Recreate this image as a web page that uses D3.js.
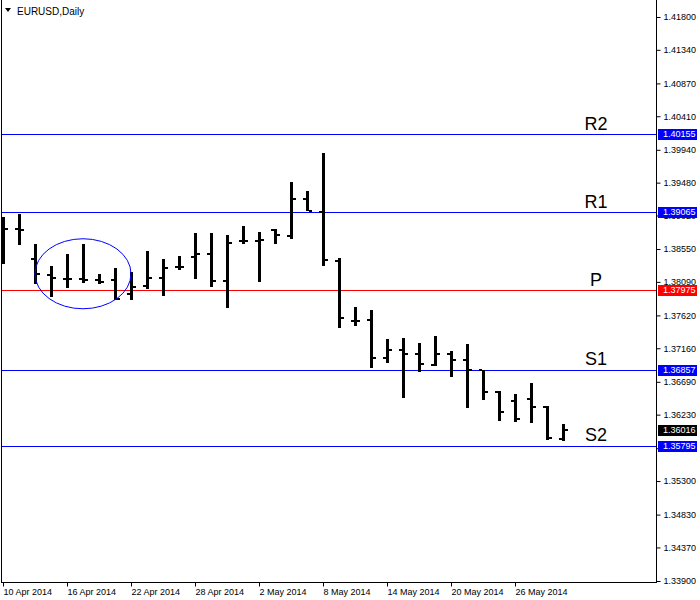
<!DOCTYPE html>
<html><head><meta charset="utf-8">
<script src="https://cdn.jsdelivr.net/npm/d3@7"></script>
<style>
html,body{margin:0;padding:0;background:#fff;}
svg{display:block;}
text{font-family:"Liberation Sans",Arial,sans-serif;}
</style></head>
<body>
<script>
// ---- data ----
const symbolTitle = "EURUSD,Daily";
const dates = ["2014-04-10","2014-04-11","2014-04-14","2014-04-15","2014-04-16","2014-04-17","2014-04-18",
  "2014-04-21","2014-04-22","2014-04-23","2014-04-24","2014-04-25","2014-04-28","2014-04-29","2014-04-30",
  "2014-05-01","2014-05-02","2014-05-05","2014-05-06","2014-05-07","2014-05-08","2014-05-09","2014-05-12",
  "2014-05-13","2014-05-14","2014-05-15","2014-05-16","2014-05-19","2014-05-20","2014-05-21","2014-05-22",
  "2014-05-23","2014-05-26","2014-05-27","2014-05-28","2014-05-29"];
const opens  = [1.38850,1.38835,1.38414,1.38190,1.38134,1.38134,1.38120,1.38120,1.37923,1.38036,1.38148,1.38302,
  1.38442,1.38484,1.38106,1.38666,1.38666,1.38821,1.38737,1.39255,1.39073,1.38386,1.37545,1.37559,1.37026,1.37138,
  1.37082,1.36928,1.37082,1.36998,1.36858,1.36550,1.36423,1.36451,1.36339,1.35891];
const highs  = [1.39000,1.39045,1.38624,1.38316,1.38484,1.38624,1.38204,1.38288,1.38232,1.38526,1.38414,1.38456,
  1.38779,1.38779,1.38751,1.38877,1.38793,1.38835,1.39494,1.39367,1.39900,1.38428,1.37741,1.37699,1.37293,1.37307,
  1.37237,1.37335,1.37124,1.37223,1.36858,1.36564,1.36522,1.36676,1.36353,1.36101];
const lows   = [1.38344,1.38610,1.38064,1.37881,1.38008,1.38078,1.38064,1.37839,1.37839,1.37994,1.37895,1.38260,
  1.38134,1.38022,1.37727,1.38624,1.38092,1.38624,1.38694,1.39087,1.38316,1.37447,1.37475,1.36886,1.36956,1.36465,
  1.36830,1.36914,1.36760,1.36325,1.36437,1.36143,1.36129,1.36115,1.35877,1.35863];
const closes = [1.38830,1.38821,1.38204,1.38148,1.38134,1.38120,1.38092,1.37853,1.38022,1.38148,1.38288,1.38302,
  1.38484,1.38106,1.38638,1.38666,1.38680,1.38751,1.39255,1.39087,1.38400,1.37587,1.37545,1.37026,1.37138,1.37082,
  1.36942,1.37082,1.36998,1.36858,1.36550,1.36269,1.36171,1.36339,1.35905,1.36016];

const priceTicks = [1.41800,1.41340,1.40870,1.40410,1.39940,1.39480,1.39020,1.38550,1.38090,1.37620,
  1.37160,1.36690,1.36230,1.35760,1.35300,1.34830,1.34370,1.33900];
const dateTicks = ["2014-04-10","2014-04-16","2014-04-22","2014-04-28","2014-05-02","2014-05-08",
  "2014-05-14","2014-05-20","2014-05-26"];

const levelNames  = ["R2","R1","P","S1","S2"];
const levelValues = [1.40155,1.39065,1.37975,1.36857,1.35795];

const ellipseDates  = ["2014-04-14","2014-04-22"];
const ellipsePrices = [1.38694,1.37713];

const priceDomain = [1.33900,1.41800];

// ---- layout ----
const W = 700, H = 600;
const axisX = 656.5, bottomY = 582.5;

const svg = d3.select("body").append("svg").attr("width",W).attr("height",H);

const x = d3.scalePoint().domain(dates).range([3, 3 + (dates.length-1)*16]);
const y = d3.scaleLinear().domain(priceDomain).range([581, 17]);

const fmtDate = d3.timeFormat("%-d %b %Y");
const parse = d3.timeParse("%Y-%m-%d");

svg.append("defs").append("clipPath").attr("id","plot")
  .append("rect").attr("x",1).attr("y",0).attr("width",axisX-1).attr("height",bottomY);

const plot = svg.append("g").attr("clip-path","url(#plot)");

// level lines
const levelColor = n => n === "P" ? "#ff0000" : "#0000ff";
levelNames.forEach((n,i)=>{
  const yy = Math.round(y(levelValues[i])) + 0.5;
  plot.append("line").attr("x1",1).attr("x2",axisX).attr("y1",yy).attr("y2",yy)
    .attr("stroke",levelColor(n)).attr("stroke-width",1);
});

// bars
const bars = plot.append("g").attr("shape-rendering","crispEdges").attr("fill","#000");
dates.forEach((d,i)=>{
  const cx = Math.round(x(d));
  const yh = Math.round(y(highs[i])), yl = Math.round(y(lows[i]));
  const yo = Math.round(y(opens[i])), yc = Math.round(y(closes[i]));
  bars.append("rect").attr("x",cx-1).attr("y",yh).attr("width",3).attr("height",Math.max(1,yl-yh));
  bars.append("rect").attr("x",cx-4).attr("y",yo-1).attr("width",3).attr("height",2);
  bars.append("rect").attr("x",cx+2).attr("y",yc-1).attr("width",3).attr("height",2);
});

// ellipse annotation
const ex0 = x(ellipseDates[0]), ex1 = x(ellipseDates[1]);
const ey0 = y(ellipsePrices[0]), ey1 = y(ellipsePrices[1]);
plot.append("ellipse").attr("cx",(ex0+ex1)/2).attr("cy",(ey0+ey1)/2)
  .attr("rx",(ex1-ex0)/2).attr("ry",(ey1-ey0)/2)
  .attr("fill","none").attr("stroke","#0000ff").attr("stroke-width",1);

// level labels
levelNames.forEach((n,i)=>{
  plot.append("text").attr("x",596).attr("y",y(levelValues[i]) - 4.5)
    .attr("text-anchor","middle").attr("font-size",18).attr("fill","#000").text(n);
});

// frame
const frame = svg.append("g").attr("stroke","#000").attr("stroke-width",1).attr("shape-rendering","crispEdges");
frame.append("line").attr("x1",1.5).attr("x2",1.5).attr("y1",0).attr("y2",bottomY);
frame.append("line").attr("x1",1).attr("x2",axisX).attr("y1",bottomY).attr("y2",bottomY);
frame.append("line").attr("x1",axisX).attr("x2",axisX).attr("y1",0).attr("y2",bottomY);

// right price axis
const yAxis = d3.axisRight(y).tickValues(priceTicks).tickFormat(d3.format(".5f")).tickSize(4).tickPadding(3);
const ya = svg.append("g").attr("transform",`translate(${axisX},0)`).call(yAxis);
ya.select(".domain").remove();
ya.selectAll("text").attr("font-size",9).attr("fill","#000").attr("font-family","'Liberation Sans',Arial,sans-serif");
ya.selectAll("line").attr("stroke","#000");

// bottom date axis
const xAxis = d3.axisBottom(x).tickValues(dateTicks).tickFormat(d=>fmtDate(parse(d))).tickSize(4).tickPadding(2);
const xa = svg.append("g").attr("transform",`translate(0,${bottomY})`).call(xAxis);
xa.select(".domain").remove();
xa.selectAll("text").attr("font-size",9).attr("fill","#000").attr("text-anchor","start")
  .attr("font-family","'Liberation Sans',Arial,sans-serif");
xa.selectAll("line").attr("stroke","#000");

// price boxes
const boxes = levelNames.map((n,i)=>({v:levelValues[i], bg: levelColor(n)}));
boxes.push({v: closes[closes.length-1], bg:"#000"});
boxes.forEach(b=>{
  const yy = Math.round(y(b.v));
  svg.append("rect").attr("x",658).attr("y",yy-5).attr("width",39).attr("height",11).attr("fill",b.bg);
  svg.append("text").attr("x",663).attr("y",yy).attr("dy","0.35em").attr("font-size",9)
    .attr("fill","#fff").text(d3.format(".5f")(b.v));
});

// title
svg.append("path").attr("d","M5,8 L11,8 L8,12 Z").attr("fill","#000");
svg.append("text").attr("x",17).attr("y",15).attr("font-size",10).attr("fill","#000").text(symbolTitle);
</script>
</body></html>
